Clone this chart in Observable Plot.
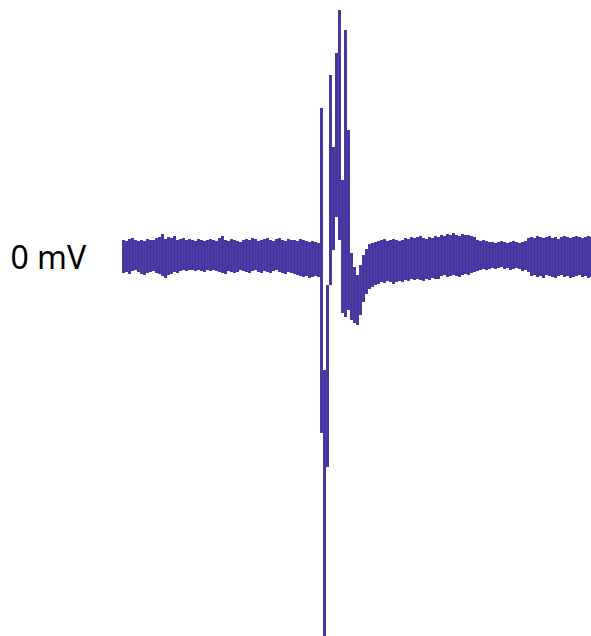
<!DOCTYPE html>
<html>
<head>
<meta charset="utf-8">
<script src="https://cdn.jsdelivr.net/npm/d3@7"></script>
<script src="https://cdn.jsdelivr.net/npm/@observablehq/plot@0.6"></script>
<style>
  html, body { margin: 0; padding: 0; background: #fff; }
  #chart svg { display: block; }
</style>
</head>
<body>
<div id="chart"></div>
<script>
// Recording envelope per sample column (units: µV-like, 0 = 0 mV line)
const upper = [
  17,16,18,19,17,16,17,16,18,17, 17,19,20,23,18,20,19,21,17,18,
  19,17,18,17,16,18,17,16,17,18, 17,16,19,21,17,16,18,17,16,15,
  17,18,17,19,18,16,17,18,19,17, 16,18,19,17,16,18,17,17,16,18,
  17,16,15,16,15,14,
  149,-113,-28,182,110,204,247,77,227,127,4,-10,-18,-8,2,8,13,14,15,16,
  17,18,16,17,18,17,16,17,
  19,18,20,19,20,21,19,18,20,19,21,20,
  22,21,23,22,24,22,21,23,22,22,21,20,
  17,16,17,16,15,
  15,14,15,16,15,14,15,16,15,14,15,16,19,
  20,19,21,20,19,20,21,19,20,18,20,21,20,19,20,21,20,19,20,21,20
];
const lower = [
  -16,-15,-17,-14,-13,-15,-17,-18,-16,-15, -14,-16,-17,-19,-21,-18,-17,-15,-16,-14,
  -13,-14,-13,-13,-14,-13,-14,-15,-13,-14, -13,-14,-15,-16,-17,-14,-15,-16,-15,-13,
  -14,-15,-16,-14,-13,-15,-16,-14,-15,-16, -14,-13,-15,-16,-17,-15,-16,-17,-18,-19,
  -20,-19,-21,-20,-19,-20,
  -176,-379,-210,-28,7,40,17,-56,-60,-53,-63,-66,-68,-58,-45,-37,-32,-30,-28,-27,
  -25,-26,-24,-25,-27,-25,-24,-25,
  -23,-24,-22,-23,-22,-23,-24,-22,-23,-21,-22,-22,
  -19,-18,-20,-19,-18,-19,-20,-18,-17,-18,-16,-15,
  -14,-13,-12,-13,-12,
  -11,-12,-11,-10,-12,-11,-13,-12,-11,-12,-14,-13,-15,
  -19,-18,-20,-19,-21,-18,-19,-20,-21,-19,-18,-20,-19,-21,-20,-19,-18,-20,-19,-21,-20
];
const zeroLabel = ["0 mV"];

const samples = upper.map((u, i) => ({t: i, hi: u, lo: lower[i]}));

const chart = Plot.plot({
  width: 591,
  height: 636,
  marginLeft: 123,
  marginRight: 0,
  marginTop: 0,
  marginBottom: 0,
  x: {domain: [0, upper.length - 1], axis: null},
  y: {domain: [-379, 257], axis: null},
  style: {background: "#fff"},
  marks: [
    Plot.ruleX(samples, {x: "t", y1: "lo", y2: "hi", stroke: "#4232a0", strokeWidth: 2.9}),
    Plot.text(zeroLabel, {
      text: d => d, frameAnchor: "left", y: 0, dx: -113, dy: 1,
      textAnchor: "start", lineAnchor: "middle",
      fontSize: 32, fontFamily: "Noto Sans", fill: "#000"
    })
  ]
});
document.getElementById("chart").appendChild(chart);
</script>
</body>
</html>
